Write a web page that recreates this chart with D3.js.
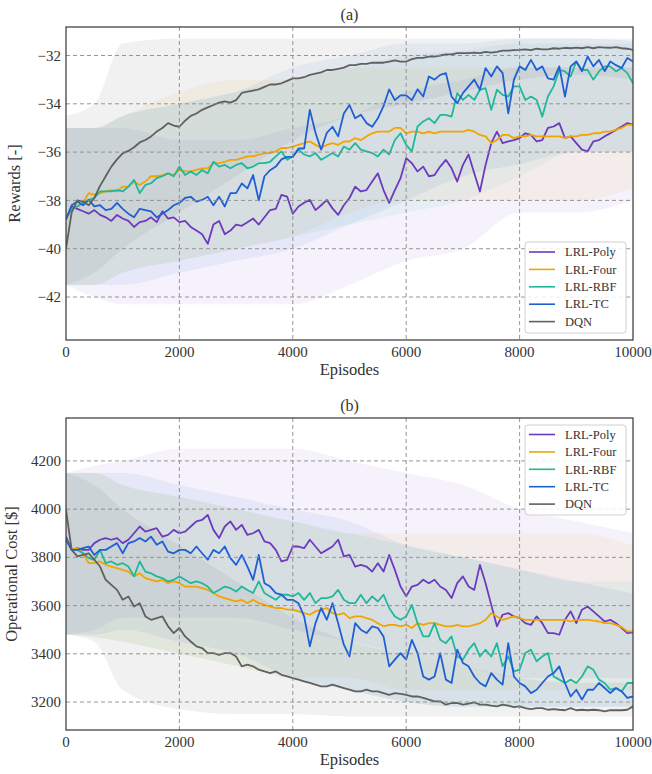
<!DOCTYPE html>
<html>
<head>
<meta charset="utf-8">
<script src="https://cdn.jsdelivr.net/npm/d3@7"></script>
<style>
  body { margin: 0; background: #fff; }
  svg { display: block; }
  text { font-family: 'Liberation Serif', 'DejaVu Serif', serif; fill: #333; }
</style>
</head>
<body>
<svg id="chart" width="652" height="774"></svg>
<script>
const SERIES = ['LRL-Poly', 'LRL-Four', 'LRL-RBF', 'LRL-TC', 'DQN'];
const COLORS = ['#6c3bbd', '#f0a500', '#1fb89b', '#1f5fd6', '#606060'];
const EPISODE_STEP = 100;
const X_TICKS = [0, 2000, 4000, 6000, 8000, 10000];
const REWARD_TICKS = [-42, -40, -38, -36, -34, -32];
const COST_TICKS = [3200, 3400, 3600, 3800, 4000, 4200];
const BAND_EPISODES = [0, 500, 1000, 2000, 3000, 4000, 5000, 6000, 7000, 8000, 9000, 10000];

// (a) smoothed rewards, one value every 100 episodes
const rewardPoly = [
  -38.75, -38.25, -38.35, -38.45, -38.55, -38.4, -38.6, -38.7, -38.85, -38.6,
  -38.75, -38.85, -39.1, -38.9, -38.85, -38.7, -38.9, -38.45, -38.75, -38.7,
  -38.9, -38.85, -39.1, -39.25, -39.4, -39.8, -39.0, -38.85, -39.4, -39.25,
  -39.0, -39.05, -38.9, -38.75, -39.0, -38.7, -38.4, -38.35, -37.77, -37.84,
  -38.55, -38.25, -38.1, -37.98, -38.4, -38.2, -37.98, -38.33, -38.6, -38.2,
  -37.9, -37.43, -37.63, -37.57, -37.22, -36.88, -37.57, -38.1, -37.57, -37.08,
  -36.25, -36.46, -36.8, -36.6, -37.0, -36.95, -36.6, -36.32, -36.67, -37.22,
  -36.53, -36.1, -36.88, -37.63, -36.53, -35.63, -35.15, -35.63, -35.56, -35.5,
  -35.42, -35.22, -35.29, -35.56, -35.5, -35.0, -34.94, -34.8, -35.42, -35.35,
  -35.63, -35.9, -35.97, -35.56, -35.5, -35.35, -35.22, -35.08, -34.94, -34.8,
  -34.87,
];
const rewardFour = [
  -38.8, -38.35, -38.25, -38.1, -37.7, -37.77, -37.7, -37.63, -37.57, -37.63,
  -37.43, -37.43, -37.22, -37.36, -37.22, -37.0, -37.0, -36.95, -36.88, -36.95,
  -36.74, -36.8, -36.8, -36.74, -36.67, -36.67, -36.46, -36.46, -36.4, -36.32,
  -36.32, -36.25, -36.18, -36.18, -36.1, -36.04, -36.04, -35.97, -35.83, -35.83,
  -35.77, -35.7, -35.63, -35.56, -35.7, -35.83, -35.7, -35.63, -35.7, -35.56,
  -35.56, -35.42, -35.5, -35.35, -35.22, -35.15, -35.15, -35.15, -35.0, -35.0,
  -35.22, -35.15, -35.15, -35.22, -35.15, -35.22, -35.15, -35.15, -35.15, -35.15,
  -35.15, -35.08, -35.15, -35.29, -35.35, -35.63, -35.5, -35.29, -35.29, -35.42,
  -35.35, -35.35, -35.29, -35.35, -35.35, -35.35, -35.35, -35.35, -35.42, -35.35,
  -35.35, -35.29, -35.29, -35.22, -35.22, -35.15, -35.15, -35.08, -35.0, -34.87,
  -34.87,
];
const rewardRBF = [
  -38.75, -38.35, -38.25, -38.1, -37.98, -37.9, -37.63, -37.63, -37.63, -37.57,
  -37.63, -37.43, -37.15, -37.7, -37.36, -37.29, -37.08, -37.0, -36.88, -37.0,
  -36.6, -36.95, -36.8, -36.95, -36.74, -36.88, -36.4, -36.6, -36.53, -36.67,
  -36.53, -36.46, -36.67, -36.6, -36.46, -36.46, -36.4, -36.18, -35.97, -36.32,
  -36.18, -35.9, -36.1, -36.18, -36.04, -36.32, -36.18, -36.04, -36.18, -35.77,
  -35.9, -35.63, -35.9, -35.97, -36.04, -36.18, -35.9, -36.1, -35.5, -35.22,
  -35.7, -35.97, -34.94, -34.73, -34.6, -34.8, -34.46, -34.46, -34.53, -33.56,
  -33.84, -33.63, -33.84, -33.42, -33.35, -34.25, -33.42, -33.63, -33.7, -33.28,
  -33.28, -33.84, -33.7, -33.84, -34.53, -33.7, -33.28, -32.6, -32.66, -32.87,
  -32.25, -32.6, -32.6, -33.0, -32.66, -32.45, -32.45, -32.66, -32.52, -32.73,
  -33.15,
];
const rewardTC = [
  -38.8, -38.2, -38.05, -38.2, -37.98, -38.25, -38.2, -38.4, -38.35, -38.1,
  -38.35, -38.55, -38.7, -38.35, -38.4, -38.45, -38.7, -38.55, -38.4, -38.2,
  -38.1, -37.9, -37.85, -38.05, -37.98, -37.85, -38.2, -37.85, -38.25, -37.7,
  -37.7, -37.3, -37.5, -36.95, -38.0, -37.0, -36.75, -36.6, -36.3, -36.2,
  -36.2, -35.85, -35.85, -34.25, -35.2, -35.9, -35.2, -34.95, -35.35, -34.4,
  -34.05, -34.6, -34.45, -34.8, -34.95, -34.6, -34.1, -33.4, -33.85, -33.65,
  -33.65, -33.85, -33.4, -33.7, -32.87, -33.0, -32.8, -32.73, -33.7, -33.97,
  -33.56, -33.28, -33.0, -33.42, -32.52, -32.87, -32.45, -32.73, -34.4, -33.0,
  -32.45, -32.6, -32.18, -32.6, -32.45, -32.95, -33.0, -32.45, -33.7, -32.45,
  -32.25, -32.65, -32.04, -32.45, -32.18, -32.65, -32.25, -32.4, -32.52, -32.1,
  -32.25,
];
const rewardDQN = [
  -40.0, -38.5, -38.0, -38.05, -38.2, -37.9, -37.4, -37.0, -36.6, -36.3,
  -36.05, -35.95, -35.8, -35.6, -35.5, -35.35, -35.15, -35.0, -34.8, -34.9,
  -34.95, -34.7, -34.5, -34.4, -34.25, -34.15, -34.05, -33.95, -33.9, -33.95,
  -33.85, -33.55, -33.5, -33.45, -33.4, -33.3, -33.2, -33.2, -33.15, -33.05,
  -32.95, -32.95, -32.9, -32.8, -32.75, -32.7, -32.6, -32.6, -32.55, -32.5,
  -32.4, -32.4, -32.35, -32.35, -32.3, -32.3, -32.3, -32.25, -32.2, -32.25,
  -32.25, -32.15, -32.1, -32.1, -32.05, -32.05, -32.0, -31.95, -31.95, -31.9,
  -31.9, -31.9, -31.88, -31.9, -31.85, -31.88, -31.85, -31.8, -31.8, -31.78,
  -31.77, -31.75, -31.78, -31.72, -31.75, -31.75, -31.7, -31.72, -31.68, -31.7,
  -31.67, -31.7, -31.65, -31.7, -31.65, -31.67, -31.68, -31.65, -31.7, -31.72,
  -31.77,
];

// (a) spread of the raw rewards at BAND_EPISODES
const rewardLow = [
  [-41.5, -42, -42.3, -42.3, -42.3, -42.3, -41.5, -40.5, -40, -38.5, -38.5, -38],
  [-41.5, -41.5, -41, -40.5, -40, -39.5, -38.5, -38, -38, -38, -38, -37.5],
  [-41.5, -41.5, -41, -40.5, -40, -39.5, -39, -38.5, -38, -37, -36, -36],
  [-41.5, -41.5, -41.5, -41, -40.5, -40, -39, -38, -37, -36.5, -36, -36],
  [-41.5, -41, -40, -38.5, -37, -35.5, -34.5, -34, -33.5, -33, -32.8, -33],
];
const rewardHigh = [
  [-35, -35, -35, -35.5, -35.5, -35, -34.5, -33.5, -33, -32.5, -32.5, -32.5],
  [-35, -35, -34.5, -33.5, -33, -33, -32.5, -32.5, -32.5, -32.5, -32.5, -32.5],
  [-35, -35, -34.5, -34, -33.5, -33, -32.5, -32, -31.8, -31.5, -31.5, -31.5],
  [-35, -35, -34.5, -34, -33.5, -32.5, -32, -31.5, -31.5, -31.3, -31.3, -31.3],
  [-34.5, -34, -31.5, -31.3, -31.3, -31.3, -31.3, -31.3, -31.3, -31.3, -31.3, -31.4],
];

// (b) smoothed operational cost, one value every 100 episodes
const costPoly = [
  3886, 3831, 3838, 3831, 3831, 3859, 3873, 3880, 3873, 3880,
  3859, 3873, 3900, 3928, 3907, 3914, 3921, 3886, 3893, 3914,
  3900, 3907, 3928, 3949, 3955, 3976, 3914, 3880, 3928, 3949,
  3914, 3935, 3893, 3900, 3914, 3866, 3859, 3831, 3783, 3790,
  3845, 3845, 3838, 3873, 3845, 3817, 3831, 3845, 3873, 3804,
  3810, 3762, 3769, 3762, 3741, 3776, 3741, 3810, 3748, 3679,
  3638, 3679, 3686, 3707, 3693, 3707, 3679, 3665, 3631, 3693,
  3721, 3679, 3665, 3769, 3693, 3603, 3514, 3562, 3569, 3555,
  3548, 3527, 3520, 3555, 3527, 3486, 3486, 3479, 3541, 3576,
  3527, 3583, 3596, 3576, 3555, 3534, 3541, 3527, 3507, 3486,
  3489,
];
const costFour = [
  3873, 3831, 3838, 3817, 3776, 3776, 3783, 3769, 3762, 3755,
  3748, 3741, 3721, 3734, 3714, 3707, 3700, 3707, 3693, 3700,
  3693, 3679, 3679, 3679, 3672, 3665, 3652, 3638, 3631, 3624,
  3617, 3624, 3610, 3624, 3610, 3603, 3596, 3590, 3590, 3583,
  3583, 3576, 3569, 3562, 3576, 3583, 3590, 3569, 3562, 3569,
  3548, 3555, 3555, 3548, 3541, 3527, 3514, 3520, 3520, 3514,
  3520, 3507, 3527, 3520, 3527, 3527, 3520, 3514, 3514, 3520,
  3514, 3514, 3520, 3527, 3541, 3569, 3555, 3541, 3548, 3555,
  3548, 3541, 3541, 3541, 3541, 3541, 3541, 3541, 3541, 3534,
  3541, 3541, 3541, 3538, 3534, 3527, 3527, 3520, 3511, 3493,
  3493,
];
const costRBF = [
  3873, 3831, 3831, 3817, 3797, 3790, 3831, 3776, 3783, 3769,
  3776, 3762, 3721, 3783, 3741, 3734, 3721, 3714, 3700, 3707,
  3721, 3707, 3693, 3700, 3693, 3679, 3652, 3665, 3679, 3672,
  3658, 3679, 3665, 3652, 3700, 3652, 3638, 3624, 3645, 3645,
  3638, 3652, 3624, 3652, 3610, 3631, 3631, 3638, 3665, 3624,
  3610, 3610, 3645, 3610, 3638, 3617, 3645, 3590, 3555, 3541,
  3555, 3603, 3527, 3472, 3472, 3527, 3458, 3444, 3472, 3389,
  3376, 3417, 3444, 3389, 3417, 3389, 3444, 3348, 3389, 3327,
  3334, 3403, 3417, 3369, 3389, 3403, 3306, 3293, 3279, 3293,
  3279, 3306, 3348, 3334, 3293, 3279, 3251, 3258, 3244, 3279,
  3279,
];
const costTC = [
  3873, 3831, 3831, 3838, 3845, 3810, 3831, 3831, 3845, 3859,
  3817, 3859, 3866, 3880, 3866, 3886, 3852, 3866, 3824, 3817,
  3831, 3831, 3817, 3845, 3817, 3790, 3831, 3817, 3845, 3797,
  3769, 3810, 3762, 3707, 3810, 3693, 3679, 3652, 3645, 3624,
  3624, 3610, 3555, 3431, 3527, 3590, 3541, 3610, 3527, 3438,
  3389, 3527, 3500, 3486, 3514, 3507, 3472, 3348, 3376, 3403,
  3376, 3458, 3403, 3306, 3293, 3306, 3403, 3293, 3279, 3417,
  3362, 3348, 3306, 3279, 3265, 3320, 3293, 3272, 3444, 3306,
  3279, 3265, 3237, 3251, 3279, 3306, 3320, 3348, 3279, 3223,
  3251, 3210, 3251, 3251, 3279, 3258, 3237, 3258, 3244, 3217,
  3223,
];
const costDQN = [
  3997, 3831, 3804, 3810, 3817, 3790, 3762, 3707, 3686, 3665,
  3624, 3638, 3596, 3610, 3555, 3541, 3548, 3555, 3514, 3486,
  3507, 3472, 3451, 3431, 3424, 3403, 3403, 3396, 3403, 3403,
  3389, 3348, 3355, 3348, 3334, 3327, 3320, 3327, 3313, 3306,
  3299, 3293, 3286, 3279, 3272, 3265, 3265, 3272, 3265, 3258,
  3251, 3244, 3244, 3251, 3244, 3244, 3237, 3230, 3237, 3234,
  3230, 3223, 3223, 3217, 3210, 3203, 3203, 3189, 3196, 3196,
  3189, 3193, 3199, 3189, 3189, 3185, 3182, 3189, 3185, 3179,
  3182, 3175, 3171, 3175, 3175, 3168, 3171, 3168, 3166, 3175,
  3166, 3168, 3166, 3168, 3166, 3161, 3166, 3166, 3166, 3168,
  3182,
];

// (b) spread of the raw cost at BAND_EPISODES
const costLow = [
  [3480, 3500, 3550, 3550, 3550, 3500, 3450, 3400, 3350, 3300, 3300, 3300],
  [3480, 3470, 3450, 3400, 3350, 3300, 3300, 3250, 3250, 3250, 3250, 3250],
  [3480, 3470, 3450, 3400, 3350, 3300, 3250, 3200, 3180, 3180, 3180, 3180],
  [3480, 3480, 3500, 3450, 3400, 3300, 3250, 3200, 3180, 3180, 3180, 3180],
  [3480, 3450, 3250, 3170, 3150, 3150, 3140, 3140, 3140, 3140, 3140, 3140],
];
const costHigh = [
  [4150, 4180, 4200, 4250, 4250, 4250, 4200, 4150, 4100, 4000, 3950, 3900],
  [4150, 4150, 4100, 4050, 4000, 3950, 3900, 3900, 3900, 3900, 3900, 3850],
  [4150, 4150, 4100, 4050, 4000, 3950, 3900, 3850, 3800, 3750, 3700, 3700],
  [4150, 4150, 4150, 4100, 4050, 4000, 3950, 3850, 3800, 3750, 3700, 3650],
  [4150, 4100, 4000, 3850, 3700, 3550, 3450, 3400, 3350, 3300, 3280, 3280],
];

const svg = d3.select('#chart');
const left = 66;
const right = 633;

const x = d3.scaleLinear().domain([0, 10000]).range([left, right]);

function drawPanel({ top, bottom, domain, ticks, lines, low, high, title, ylabel, legend }) {
  const y = d3.scaleLinear().domain(domain).range([bottom, top]);
  const g = svg.append('g');
  const clipId = `clip-${title.replace(/\W/g, '')}`;

  g.append('clipPath')
    .attr('id', clipId)
    .append('rect')
    .attr('x', left)
    .attr('y', top)
    .attr('width', right - left)
    .attr('height', bottom - top);

  const plot = g.append('g').attr('clip-path', `url(#${clipId})`);

  const area = d3
    .area()
    .x((d, i) => x(BAND_EPISODES[i]))
    .y0((d) => d[0])
    .y1((d) => d[1])
    .curve(d3.curveMonotoneX);

  plot
    .selectAll('path.band')
    .data(SERIES)
    .join('path')
    .attr('class', 'band')
    .attr('fill', (d, k) => COLORS[k])
    .attr('fill-opacity', (d, k) => (k === 4 ? 0.09 : 0.065))
    .attr('d', (d, k) => area(low[k].map((v, i) => [y(v), y(high[k][i])])));

  g.append('g')
    .selectAll('line.vgrid')
    .data(X_TICKS.slice(1, -1))
    .join('line')
    .attr('x1', (d) => x(d))
    .attr('x2', (d) => x(d))
    .attr('y1', top)
    .attr('y2', bottom)
    .attr('stroke', '#8a8a8a')
    .attr('stroke-width', 0.9)
    .attr('stroke-dasharray', '4,3');

  g.append('g')
    .selectAll('line.hgrid')
    .data(ticks)
    .join('line')
    .attr('x1', left)
    .attr('x2', right)
    .attr('y1', (d) => y(d))
    .attr('y2', (d) => y(d))
    .attr('stroke', '#8a8a8a')
    .attr('stroke-width', 0.9)
    .attr('stroke-dasharray', '4,3');

  const line = d3
    .line()
    .x((d, i) => x(i * EPISODE_STEP))
    .y((d) => y(d));

  plot
    .selectAll('path.series')
    .data(lines)
    .join('path')
    .attr('class', 'series')
    .attr('fill', 'none')
    .attr('stroke', (d, k) => COLORS[k])
    .attr('stroke-width', 1.8)
    .attr('stroke-linejoin', 'round')
    .attr('d', line);

  g.append('rect')
    .attr('x', left)
    .attr('y', top)
    .attr('width', right - left)
    .attr('height', bottom - top)
    .attr('fill', 'none')
    .attr('stroke', '#444')
    .attr('stroke-width', 1.3);

  g.append('g')
    .selectAll('text')
    .data(X_TICKS)
    .join('text')
    .attr('x', (d) => x(d))
    .attr('y', bottom + 17)
    .attr('text-anchor', 'middle')
    .attr('font-size', 15)
    .text((d) => d);

  g.append('g')
    .selectAll('text')
    .data(ticks)
    .join('text')
    .attr('x', left - 5)
    .attr('y', (d) => y(d))
    .attr('dy', '0.34em')
    .attr('text-anchor', 'end')
    .attr('font-size', 15)
    .text(d3.format('d'));

  g.append('text')
    .attr('x', (left + right) / 2)
    .attr('y', top - 7)
    .attr('text-anchor', 'middle')
    .attr('font-size', 16)
    .text(title);

  g.append('text')
    .attr('x', (left + right) / 2)
    .attr('y', bottom + 35)
    .attr('text-anchor', 'middle')
    .attr('font-size', 16.5)
    .text('Episodes');

  g.append('text')
    .attr('transform', `translate(${ylabel.x},${(top + bottom) / 2}) rotate(-90)`)
    .attr('text-anchor', 'middle')
    .attr('font-size', 16.5)
    .text(ylabel.text);

  const lg = g.append('g').attr('transform', `translate(${legend.x},${legend.y})`);
  lg.append('rect')
    .attr('width', 101)
    .attr('height', legend.h)
    .attr('rx', 3)
    .attr('fill', '#fff')
    .attr('fill-opacity', 0.85)
    .attr('stroke', '#d0d0d0');

  const rows = lg
    .selectAll('g')
    .data(SERIES)
    .join('g')
    .attr('transform', (d, i) => `translate(0,${legend.first + i * legend.step})`);

  rows
    .append('line')
    .attr('x1', 4)
    .attr('x2', 30)
    .attr('stroke', (d, i) => COLORS[i])
    .attr('stroke-width', 1.6);

  rows
    .append('text')
    .attr('x', 40)
    .attr('dy', '0.34em')
    .attr('font-size', 12.5)
    .text((d) => d);
}

drawPanel({
  top: 27,
  bottom: 340,
  domain: [-43.78, -30.82],
  ticks: REWARD_TICKS,
  lines: [rewardPoly, rewardFour, rewardRBF, rewardTC, rewardDQN],
  low: rewardLow,
  high: rewardHigh,
  title: '(a)',
  ylabel: { x: 20, text: 'Rewards [-]' },
  legend: { x: 525, y: 242, h: 91, first: 10, step: 17.4 },
});

drawPanel({
  top: 418,
  bottom: 730,
  domain: [3084, 4378],
  ticks: COST_TICKS,
  lines: [costPoly, costFour, costRBF, costTC, costDQN],
  low: costLow,
  high: costHigh,
  title: '(b)',
  ylabel: { x: 17, text: 'Operational Cost [$]' },
  legend: { x: 525, y: 425, h: 90, first: 9.5, step: 17.4 },
});
</script>
</body>
</html>
